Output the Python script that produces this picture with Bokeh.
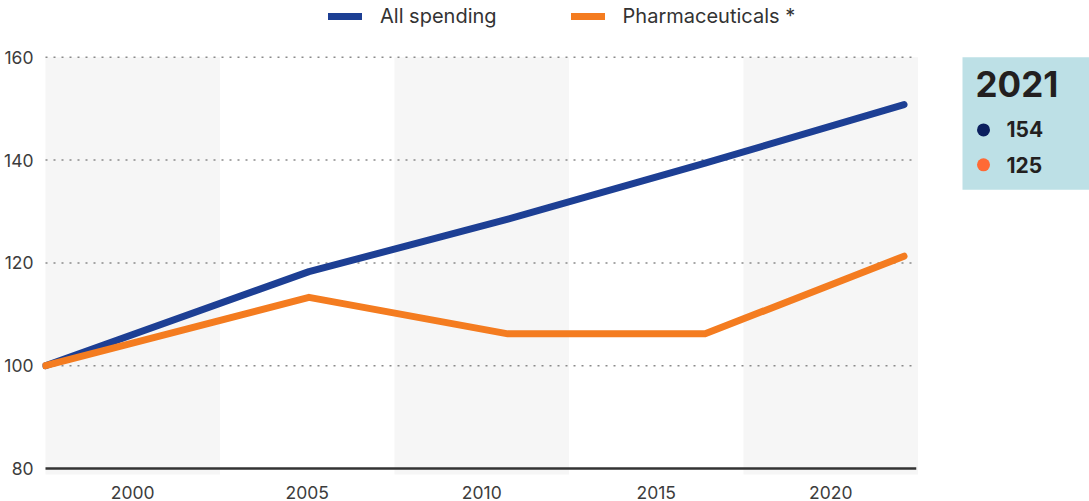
from bokeh.plotting import figure
from bokeh.models import Range1d, FixedTicker, Legend, LegendItem
from bokeh.embed import file_html
from bokeh.resources import INLINE
from bokeh.core.properties import value

# ---- data ----
years_x = [1997.5, 2005.05, 2010.75, 2016.4, 2022.1]
all_spending = [100, 118.3, 128.5, 139.4, 150.8]
pharmaceuticals = [100, 113.3, 106.2, 106.2, 121.3]
tick_years = [2000, 2005, 2010, 2015, 2020]
y_ticks = [80, 100, 120, 140, 160]
series_labels = ["All spending", "Pharmaceuticals *"]
summary_year = "2021"
summary_values = ["154", "125"]

BLUE = "#1d3f94"
ORANGE = "#f47c20"
FONT = "Inter"

W, H = 1089, 501
BORDER_L, BORDER_B = 42, 25
PPX = 34.9                    # pixels per year
PPY = 5.1625                  # pixels per index point
TOP_160 = 57                  # pixel row of the 160 line
half_band = (tick_years[1] - tick_years[0]) / 2
x_lo = tick_years[0] - half_band            # left edge of plotting area
x_hi = tick_years[-1] + half_band           # right edge of plotting area
x_start = x_lo - 3 / PPX
x_end = x_start + (W - BORDER_L) / PPX
y_end = y_ticks[-1] + TOP_160 / PPY
y_start = y_end - (H - BORDER_B) / PPY
frame_h = H - BORDER_B


def px_x(px):
    return x_start + (px - BORDER_L) / PPX


def px_y(px):
    return y_end - px / PPY


p = figure(width=W, height=H,
           x_range=Range1d(x_start, x_end), y_range=Range1d(y_start, y_end),
           output_backend="svg", toolbar_location=None,
           min_border_left=BORDER_L, min_border_right=0, min_border_top=0,
           min_border_bottom=BORDER_B)
p.outline_line_color = None
p.background_fill_color = "white"
p.border_fill_color = "white"
p.grid.visible = False

# alternating shaded columns centred on every other tick
shaded = tick_years[::2]
p.quad(left=[t - half_band for t in shaded], right=[t + half_band for t in shaded],
       bottom=[0] * len(shaded), top=[y_ticks[-1]] * len(shaded),
       fill_color="#f6f6f6", line_color=None)

# dotted horizontal gridlines
grid_y = y_ticks[1:]
p.segment(x0=[x_lo] * len(grid_y), x1=[x_hi - 0.05] * len(grid_y), y0=grid_y, y1=grid_y,
          line_color="#8a8a8a", line_width=1.5, line_dash="2 6")
# baseline
p.segment(x0=[x_lo], x1=[x_hi - 0.05], y0=[y_ticks[0]], y1=[y_ticks[0]],
          line_color="#333333", line_width=2.5)

r1 = p.line(years_x, all_spending, line_color=BLUE, line_width=7,
            line_cap="round", line_join="round")
r2 = p.line(years_x, pharmaceuticals, line_color=ORANGE, line_width=7,
            line_cap="round", line_join="round")

for ax, ticks in ((p.xaxis, tick_years), (p.yaxis, y_ticks)):
    ax.ticker = FixedTicker(ticks=ticks)
    ax.axis_line_color = None
    ax.major_tick_line_color = None
    ax.minor_tick_line_color = None
    ax.major_label_text_font = FONT
    ax.major_label_text_font_size = "17.5px"
    ax.major_label_text_color = "#3c3c3c"
p.yaxis.major_label_standoff = 3
p.xaxis.major_label_standoff = 5

legend = Legend(items=[LegendItem(label=series_labels[0], renderers=[r1]),
                       LegendItem(label=series_labels[1], renderers=[r2])],
                orientation="horizontal", location=(286, frame_h - 30),
                glyph_width=34, glyph_height=20, label_height=20,
                label_standoff=18, spacing=74, padding=0, margin=0,
                border_line_color=None, background_fill_alpha=0,
                label_text_font=FONT, label_text_font_size="20px",
                label_text_color="#333333")
p.add_layout(legend)

# ---- summary box on the right ----
p.quad(left=[px_x(962)], right=[x_end + 1], top=[y_ticks[-1]], bottom=[px_y(190)],
       fill_color="#bde0e6", line_color=None)
p.text(x=[px_x(975)], y=[px_y(84)], text=[summary_year], text_font=value(FONT),
       text_font_style="bold", text_font_size="35px", text_color="#231f20",
       text_baseline="alphabetic")
p.scatter(x=[px_x(983)] * 2, y=[px_y(130), px_y(165)], size=13,
          color=["#0b1f5e", "#ff6a35"], line_color=None)
p.text(x=[px_x(1006)] * 2, y=[px_y(129), px_y(165)], text=summary_values,
       text_font=value(FONT), text_font_style="bold", text_font_size="21px",
       text_color="#231f20", text_baseline="alphabetic")

open("out.html", "w").write(file_html(p, INLINE))
